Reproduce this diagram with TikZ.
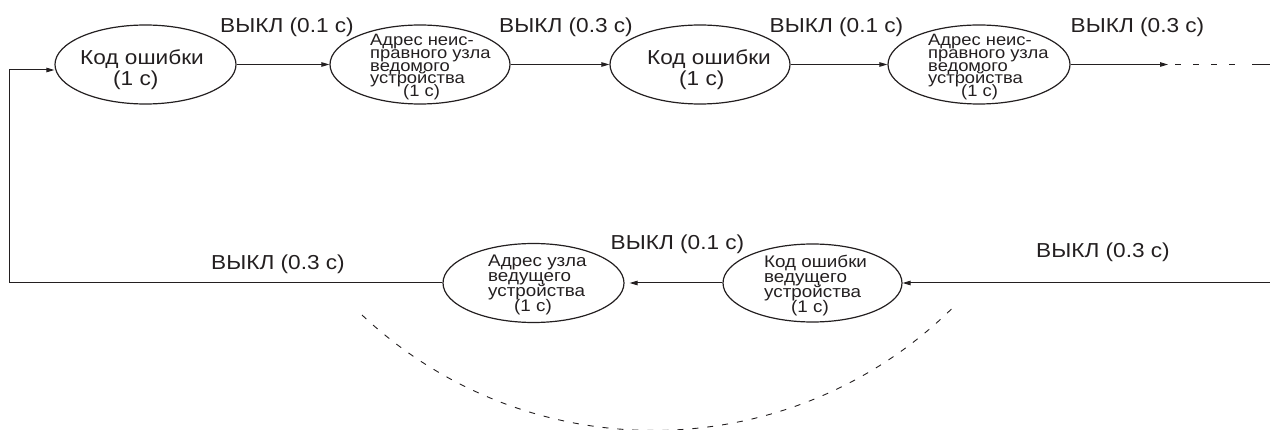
\documentclass[tikz,border=0pt]{standalone}
\usepackage{fontspec}
\setmainfont{Liberation Sans}[FakeStretch=1.12]
\usetikzlibrary{shapes.geometric,arrows.meta}
\definecolor{ink}{RGB}{35,31,32}
\newcommand\tightls{\lineskiplimit-50pt\relax}
\tikzset{
  stbox/.style={ellipse, draw=ink, line width=1.2pt, inner sep=0pt},
  conn/.style={draw=ink, line width=1pt},
  arr/.style={conn, -{Triangle[length=8pt,width=4.5pt]}},
  lab/.style={text=ink, anchor=base, inner sep=0pt, font={\fontsize{20.2}{21}\selectfont}},
  bigtxt/.style={text=ink, anchor=north west, inner sep=0pt, align=left,
    font={\fontsize{20.2}{21}\selectfont\tightls}},
  smalltxt/.style={text=ink, anchor=north west, inner sep=0pt, align=left,
    font={\fontsize{16.4}{12.8}\selectfont\tightls}},
  midtxt/.style={text=ink, anchor=north west, inner sep=0pt, align=left,
    font={\fontsize{16.8}{15}\selectfont\tightls}},
}
\begin{document}
\begin{tikzpicture}[x=1pt,y=-1pt]
\useasboundingbox (0,0) rectangle (1270,430);
% ellipses
\node[stbox, minimum width=181pt, minimum height=79pt] (e1) at (145.5,64.5) {};
\node[stbox, minimum width=180pt, minimum height=79pt] (e2) at (420,64.5) {};
\node[stbox, minimum width=180pt, minimum height=79pt] (e3) at (700,64.5) {};
\node[stbox, minimum width=182pt, minimum height=79pt] (e4) at (979,64.5) {};
\node[stbox, minimum width=181pt, minimum height=79pt] (e5) at (533.5,283) {};
\node[stbox, minimum width=179pt, minimum height=78pt] (e6) at (812.5,283) {};
% texts in ellipses
\node[bigtxt] (t1) at (80,49) {Код ошибки\\\hspace*{33pt}(1 с)};
\node[smalltxt] (t2) at (370,34) {Адрес неис-\\правного узла\\ведомого\\устройства\\\hspace*{33pt}(1 с)};
\node[bigtxt] (t3) at (647,49) {Код ошибки\\\hspace*{32pt}(1 с)};
\node[smalltxt] (t4) at (928,34) {Адрес неис-\\правного узла\\ведомого\\устройства\\\hspace*{33pt}(1 с)};
\node[midtxt] (t5) at (488,255) {Адрес узла\\ведущего\\устройства\\\hspace*{26pt}(1 с)};
\node[midtxt] (t6) at (764,254.5) {Код ошибки\\ведущего\\устройства\\\hspace*{27pt}(1 с)};
% labels
\node[lab] (l1) at (287,33) {ВЫКЛ (0.1 с)};
\node[lab] (l2) at (566,33) {ВЫКЛ (0.3 с)};
\node[lab] (l3) at (836.5,33) {ВЫКЛ (0.1 с)};
\node[lab] (l4) at (1137.5,33) {ВЫКЛ (0.3 с)};
\node[lab] (l5) at (278,270) {ВЫКЛ (0.3 с)};
\node[lab] (l6) at (677.5,250) {ВЫКЛ (0.1 с)};
\node[lab] (l7) at (1103,258) {ВЫКЛ (0.3 с)};
% coordinates
\coordinate (cBL) at (9,283);
\coordinate (cTL) at (9,70);
\coordinate (tR) at (1168,64.5);
\coordinate (d1) at (1175,64.5);
\coordinate (d2) at (1240,64.5);
\coordinate (s1) at (1252,64.5);
\coordinate (s2) at (1270,64.5);
\coordinate (rB) at (1270,283);
\coordinate (a1) at (362,315);
% connectors
\draw[arr] (e1) -- (e2);
\draw[arr] (e2) -- (e3);
\draw[arr] (e3) -- (e4);
\draw[arr] (e4) -- (tR);
\draw[conn, dash pattern=on 6pt off 12pt] (d1) -- (d2);
\draw[conn] (s1) -- (s2);
\draw[arr] (rB) -- (e6);
\draw[arr, shorten >=5pt] (e6) -- (e5);
\draw[arr] (e5.west) -- (cBL) -- (cTL) -- (cTL -| e1.west);
\draw[draw=ink, line width=0.9pt, dash pattern=on 6pt off 9pt] (a1) arc[start angle=133.2, end angle=44.5, radius=426];
\end{tikzpicture}
\end{document}
